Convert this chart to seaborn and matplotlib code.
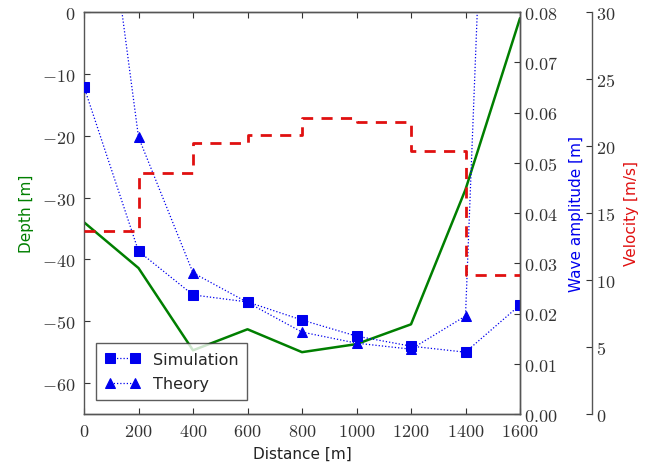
import matplotlib
matplotlib.use("Agg")
import matplotlib.pyplot as plt
from matplotlib.ticker import FuncFormatter, MultipleLocator
import seaborn as sns
import pandas as pd

# ---- data ----
distance = [0, 200, 400, 600, 800, 1000, 1200, 1400, 1600]
depth = [-34.0, -41.4, -54.7, -51.3, -55.0, -53.7, -50.5, -28.7, -1.0]
velocity = [13.65, 18.0, 20.25, 20.8, 22.1, 21.8, 19.65, 10.4, 10.4]
simulation = [0.0651, 0.0324, 0.0237, 0.0223, 0.0187, 0.0155, 0.0135, 0.0123, 0.0217]
theory = [0.137, 0.0551, 0.0281, 0.0222, 0.0163, 0.0141, 0.0129, 0.0195, 0.30]

df = pd.DataFrame({"distance": distance, "depth": depth, "velocity": velocity,
                   "simulation": simulation, "theory": theory})

sns.set_style("ticks")
plt.rcParams["font.family"] = ["DejaVu Sans"]
plt.rcParams["mathtext.fontset"] = "cm"

fig = plt.figure(figsize=(6.54, 4.77), dpi=100)
ax1 = fig.add_axes([84 / 654, 1 - 415 / 477, (520 - 84) / 654, (415 - 13) / 477])
ax2 = ax1.twinx()
ax3 = ax1.twinx()
ax3.spines["right"].set_position(("axes", 1.165))

green = "#007f00"
blue = "#0000ee"
red = "#e01010"

sns.lineplot(data=df, x="distance", y="depth", ax=ax1, color=green, lw=1.8, sort=False)
sns.lineplot(data=df, x="distance", y="simulation", ax=ax2, color=blue, lw=0.9,
             linestyle=(0, (1, 1.6)), marker="s", markersize=7, markeredgecolor=blue,
             sort=False, label="Simulation")
sns.lineplot(data=df, x="distance", y="theory", ax=ax2, color=blue, lw=0.9,
             linestyle=(0, (1, 1.6)), marker="^", markersize=7, markeredgecolor=blue,
             sort=False, label="Theory")
sns.lineplot(data=df, x="distance", y="velocity", ax=ax3, color=red, lw=2.0,
             linestyle=(0, (4, 3)), drawstyle="steps-post", sort=False)

ax1.set_xlim(0, 1600)
ax1.set_ylim(-65, 0)
ax2.set_ylim(0, 0.08)
ax3.set_ylim(0, 30)

ax1.xaxis.set_major_locator(MultipleLocator(200))
ax1.yaxis.set_major_locator(MultipleLocator(10))
ax2.yaxis.set_major_locator(MultipleLocator(0.01))
ax3.yaxis.set_major_locator(MultipleLocator(5))

ax1.xaxis.set_major_formatter(FuncFormatter(lambda v, p: f"${v:.0f}$"))
ax1.yaxis.set_major_formatter(FuncFormatter(lambda v, p: f"${v:.0f}$"))
ax2.yaxis.set_major_formatter(FuncFormatter(lambda v, p: f"${v:.2f}$"))
ax3.yaxis.set_major_formatter(FuncFormatter(lambda v, p: f"${v:.0f}$"))

tick_kw = dict(direction="in", length=4, width=0.8, labelsize=13, colors="#333333",
               labelcolor="#333333")
ax1.tick_params(axis="both", top=True, right=False, pad=6, **tick_kw)
ax2.tick_params(axis="y", pad=3, **tick_kw)
ax3.tick_params(axis="y", pad=3, **tick_kw)

for ax in (ax1, ax2, ax3):
    for s in ax.spines.values():
        s.set_color("#555555")
        s.set_linewidth(1.0)
ax3.spines["left"].set_visible(False)
ax3.spines["top"].set_visible(False)
ax3.spines["bottom"].set_visible(False)
ax2.spines["left"].set_visible(False)

ax1.set_xlabel("Distance [m]", fontsize=11, color="#222222", labelpad=4)
ax1.set_ylabel("Depth [m]", fontsize=11, color=green, labelpad=6)
ax2.set_ylabel("Wave amplitude [m]", fontsize=11, color=blue, labelpad=8)
ax3.set_ylabel("Velocity [m/s]", fontsize=11, color=red, labelpad=6)

handles, labels = ax2.get_legend_handles_labels()
if ax2.get_legend() is not None:
    ax2.get_legend().remove()
leg = ax3.legend(handles, labels, loc="lower left", numpoints=2, fontsize=11.5,
                 frameon=True, fancybox=False, edgecolor="#333333",
                 bbox_to_anchor=(0.01, 0.015), borderpad=0.55, handlelength=2.2,
                 labelspacing=0.6)
leg.get_frame().set_linewidth(1.0)

fig.savefig("out.png", dpi=100)
